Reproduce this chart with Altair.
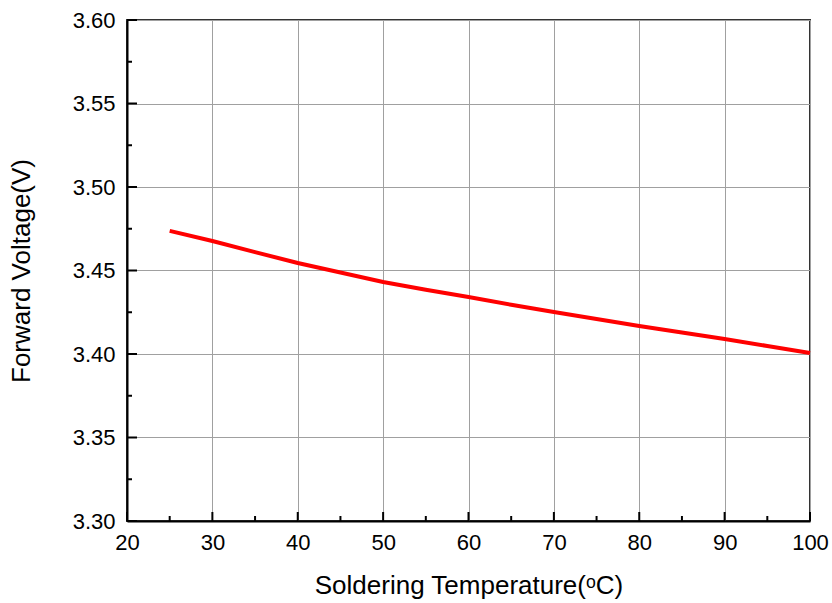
import altair as alt
import pandas as pd

# Data
temperature = [25, 30, 35, 40, 45, 50, 55, 60, 65, 70, 75, 80, 85, 90, 95, 100]
voltage = [3.4737, 3.4677, 3.4610, 3.4545, 3.4488, 3.4431, 3.4385, 3.4341,
           3.4295, 3.4251, 3.4209, 3.4168, 3.4129, 3.4090, 3.4048, 3.4006]

x_major = [20, 30, 40, 50, 60, 70, 80, 90, 100]
x_minor = [25, 35, 45, 55, 65, 75, 85, 95]
y_major = [3.30, 3.35, 3.40, 3.45, 3.50, 3.55, 3.60]
y_minor = [3.325, 3.375, 3.425, 3.475, 3.525, 3.575]

W, H = 683, 501
FONT = "Liberation Sans"

xs = alt.Scale(domain=[20, 100], nice=False)
ys = alt.Scale(domain=[3.30, 3.60], nice=False, zero=False)

common = dict(
    ticks=False, grid=True, gridColor="#a0a0a0", gridWidth=1,
    domainColor="black", domainWidth=2, labelFlush=False,
    labelFontSize=22, titleFontSize=26, labelFont=FONT, titleFont=FONT,
    labelColor="black", titleColor="black", titleFontWeight="normal")

x_axis = alt.Axis(
    values=x_major, format="d", title="Soldering Temperature(ᵒC)",
    labelPadding=11, titleX=W / 2, titleY=51, **common)
y_axis = alt.Axis(
    values=y_major, format=".2f", title="Forward Voltage(V)",
    labelPadding=12, titleX=-93, titleY=H / 2, **common)

df = pd.DataFrame({"t": temperature, "v": voltage})

line = alt.Chart(df).mark_line(color="#ff0000", strokeWidth=4).encode(
    x=alt.X("t:Q", scale=xs, axis=x_axis),
    y=alt.Y("v:Q", scale=ys, axis=y_axis),
)

def xticks(vals, length):
    return alt.Chart(pd.DataFrame({"t": vals})).mark_rule(color="black", strokeWidth=2).encode(
        x=alt.X("t:Q", scale=xs, axis=x_axis),
        y=alt.value(H), y2=alt.value(H - length))

def yticks(vals, length):
    return alt.Chart(pd.DataFrame({"v": vals})).mark_rule(color="black", strokeWidth=2).encode(
        y=alt.Y("v:Q", scale=ys, axis=y_axis),
        x=alt.value(0), x2=alt.value(length))

chart = alt.layer(
    line,
    xticks(x_major, 9), xticks(x_minor, 5),
    yticks(y_major, 10), yticks(y_minor, 5),
).properties(
    width=W, height=H,
    autosize=alt.AutoSizeParams(type="none"),
    padding={"left": 127, "top": 20, "right": 22, "bottom": 82},
).configure_view(stroke="#333333", strokeWidth=2)

chart.save("out.html", embed_options={"renderer": "svg", "actions": False})
